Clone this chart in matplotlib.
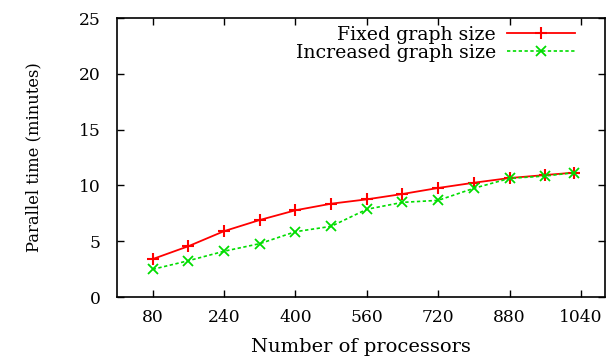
import matplotlib
matplotlib.use("Agg")
import matplotlib.pyplot as plt

processors = [80, 160, 240, 320, 400, 480, 560, 640, 720, 800, 880, 960, 1024]
fixed_size = [3.4, 4.55, 5.9, 6.9, 7.77, 8.36, 8.75, 9.23, 9.77, 10.24, 10.66, 10.93, 11.14]
increased_size = [2.48, 3.25, 4.1, 4.78, 5.85, 6.33, 7.86, 8.48, 8.66, 9.74, 10.63, 10.84, 11.14]
x_ticks = [80, 240, 400, 560, 720, 880, 1040]
y_ticks = [0, 5, 10, 15, 20, 25]

plt.rcParams['font.family'] = ['DejaVu Serif']

fig = plt.figure(figsize=(6.11, 3.61), dpi=100)
ax = fig.add_axes([117 / 611, 1 - 297 / 361, (605 - 117) / 611, (297 - 18) / 361])

ax.plot(processors, fixed_size, color='#ff0000', linestyle='-', linewidth=1.3,
        marker='+', markersize=9, markeredgewidth=1.5, label='Fixed graph size')
ax.plot(processors, increased_size, color='#00dd00', linestyle=(0, (2, 1.5)), linewidth=1.2,
        marker='x', markersize=7, markeredgewidth=1.3, label='Increased graph size')

ax.set_xlim(0, 1094)
ax.set_ylim(0, 25)
ax.set_xticks(x_ticks)
ax.set_yticks(y_ticks)
ax.tick_params(direction='in', length=5, width=1, top=True, right=True,
               labelsize=12.3)
ax.tick_params(axis='x', pad=9)
ax.tick_params(axis='y', pad=12)
for s in ax.spines.values():
    s.set_linewidth(1.2)

ax.set_xlabel('Number of processors', fontsize=14, labelpad=8)
ax.set_ylabel('Parallel time (minutes)', fontsize=11.8, labelpad=26)

ax.legend(loc='upper right', frameon=False, markerfirst=False, fontsize=13.6,
          handlelength=3.6, handletextpad=0.6, labelspacing=0.0,
          borderaxespad=0.0, bbox_to_anchor=(0.955, 1.0))

fig.savefig('out.png', dpi=100)
